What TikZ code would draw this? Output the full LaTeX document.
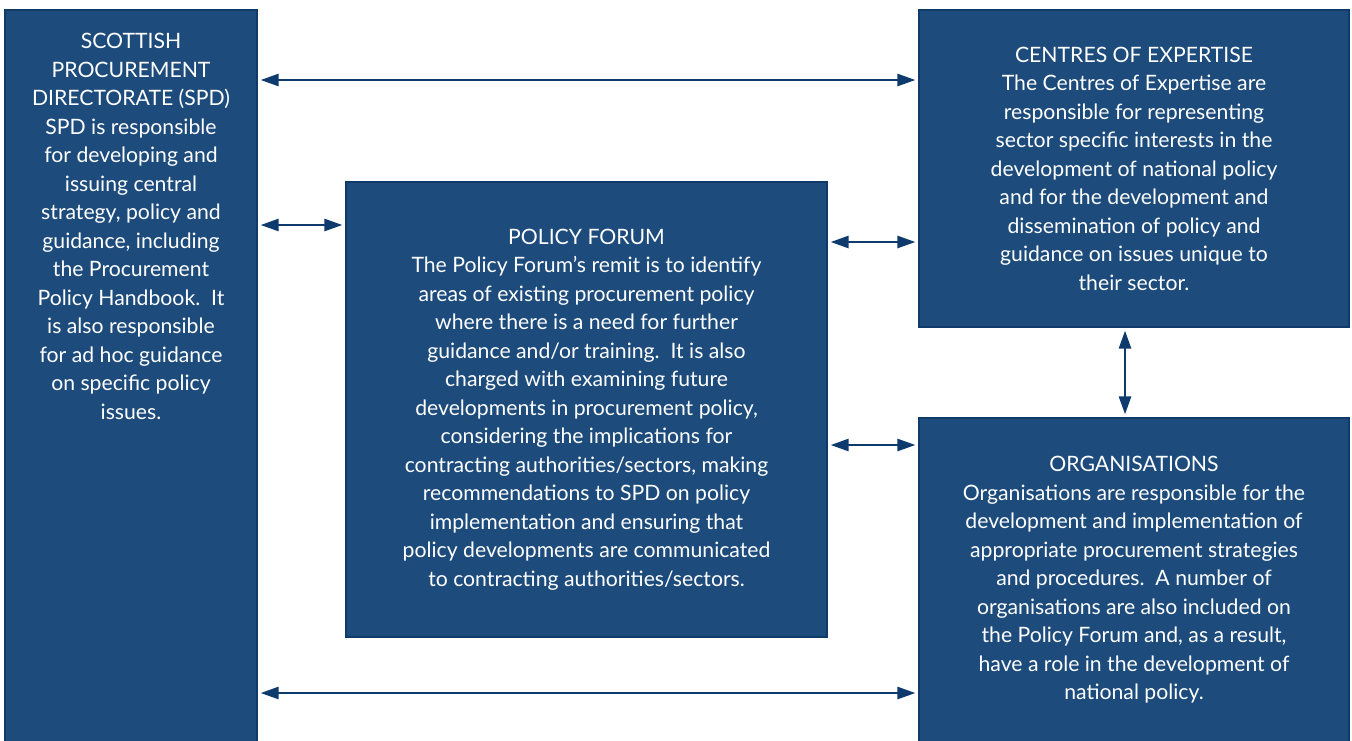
\documentclass[tikz,border=0pt]{standalone}
\usepackage{fontspec}
\setmainfont{Lato}
\usetikzlibrary{arrows.meta}
\definecolor{boxblue}{HTML}{1C4B7C}
\definecolor{boxedge}{HTML}{0F3A6A}
\definecolor{arrowblue}{HTML}{0E3A6E}

\begin{document}
\begin{tikzpicture}[x=0.5pt,y=-0.5pt]
    \tikzstyle{words}=[text=white,align=center,inner sep=0pt,font=\fontsize{10.6}{14.25}\selectfont]
    \tikzstyle{box}=[words,rectangle,draw=boxedge,line width=0.6pt,fill=boxblue]
    \tikzstyle{link}=[{Triangle[length=9pt,width=6pt]}-{Triangle[length=9pt,width=6pt]},draw=arrowblue,line width=1.3pt,shorten <=1.5pt,shorten >=1.5pt]

    \useasboundingbox (0,0) rectangle (1352,740);

    % Boxes
    \node [box,minimum width=126pt,minimum height=366pt] (spd) at (131,376) {};
    \node [words,anchor=north] (spdtext) at (131,33) {SCOTTISH\\PROCUREMENT\\DIRECTORATE (SPD)\\SPD is responsible\\for developing and\\issuing central\\strategy, policy and\\guidance, including\\the Procurement\\Policy Handbook.\ \ It\\is also responsible\\for ad hoc guidance\\on specific policy\\issues.};

    \node [box,minimum width=240.5pt,minimum height=227.5pt] (forum) at (586.5,409.5) {POLICY FORUM\\The Policy Forum’s remit is to identify\\areas of existing procurement policy\\where there is a need for further\\guidance and/or training.\ \ It is also\\charged with examining future\\developments in procurement policy,\\considering the implications for\\contracting authorities/sectors, making\\recommendations to SPD on policy\\implementation and ensuring that\\policy developments are communicated\\to contracting authorities/sectors.};

    \node [box,minimum width=215pt,minimum height=158.5pt] (coe) at (1134,168.5) {CENTRES OF EXPERTISE\\The Centres of Expertise are\\responsible for representing\\sector specific interests in the\\development of national policy\\and for the development and\\dissemination of policy and\\guidance on issues unique to\\their sector.};

    \node [box,minimum width=215pt,minimum height=162pt] (org) at (1134,580) {ORGANISATIONS\\Organisations are responsible for the\\development and implementation of\\appropriate procurement strategies\\and procedures.\ \ A number of\\organisations are also included on\\the Policy Forum and, as a result,\\have a role in the development of\\national policy.};

    % Links
    \coordinate (r1) at (0,80);
    \coordinate (r2) at (0,225);
    \coordinate (r3) at (0,242);
    \coordinate (r4) at (0,445);
    \coordinate (r5) at (0,693);
    \coordinate (c1) at (1125,0);

    \draw [link] (spd.east |- r1) -- (coe.west |- r1);
    \draw [link] (spd.east |- r2) -- (forum.west |- r2);
    \draw [link] (forum.east |- r3) -- (coe.west |- r3);
    \draw [link] (forum.east |- r4) -- (org.west |- r4);
    \draw [link] (coe.south -| c1) -- (org.north -| c1);
    \draw [link] (spd.east |- r5) -- (org.west |- r5);
\end{tikzpicture}
\end{document}
